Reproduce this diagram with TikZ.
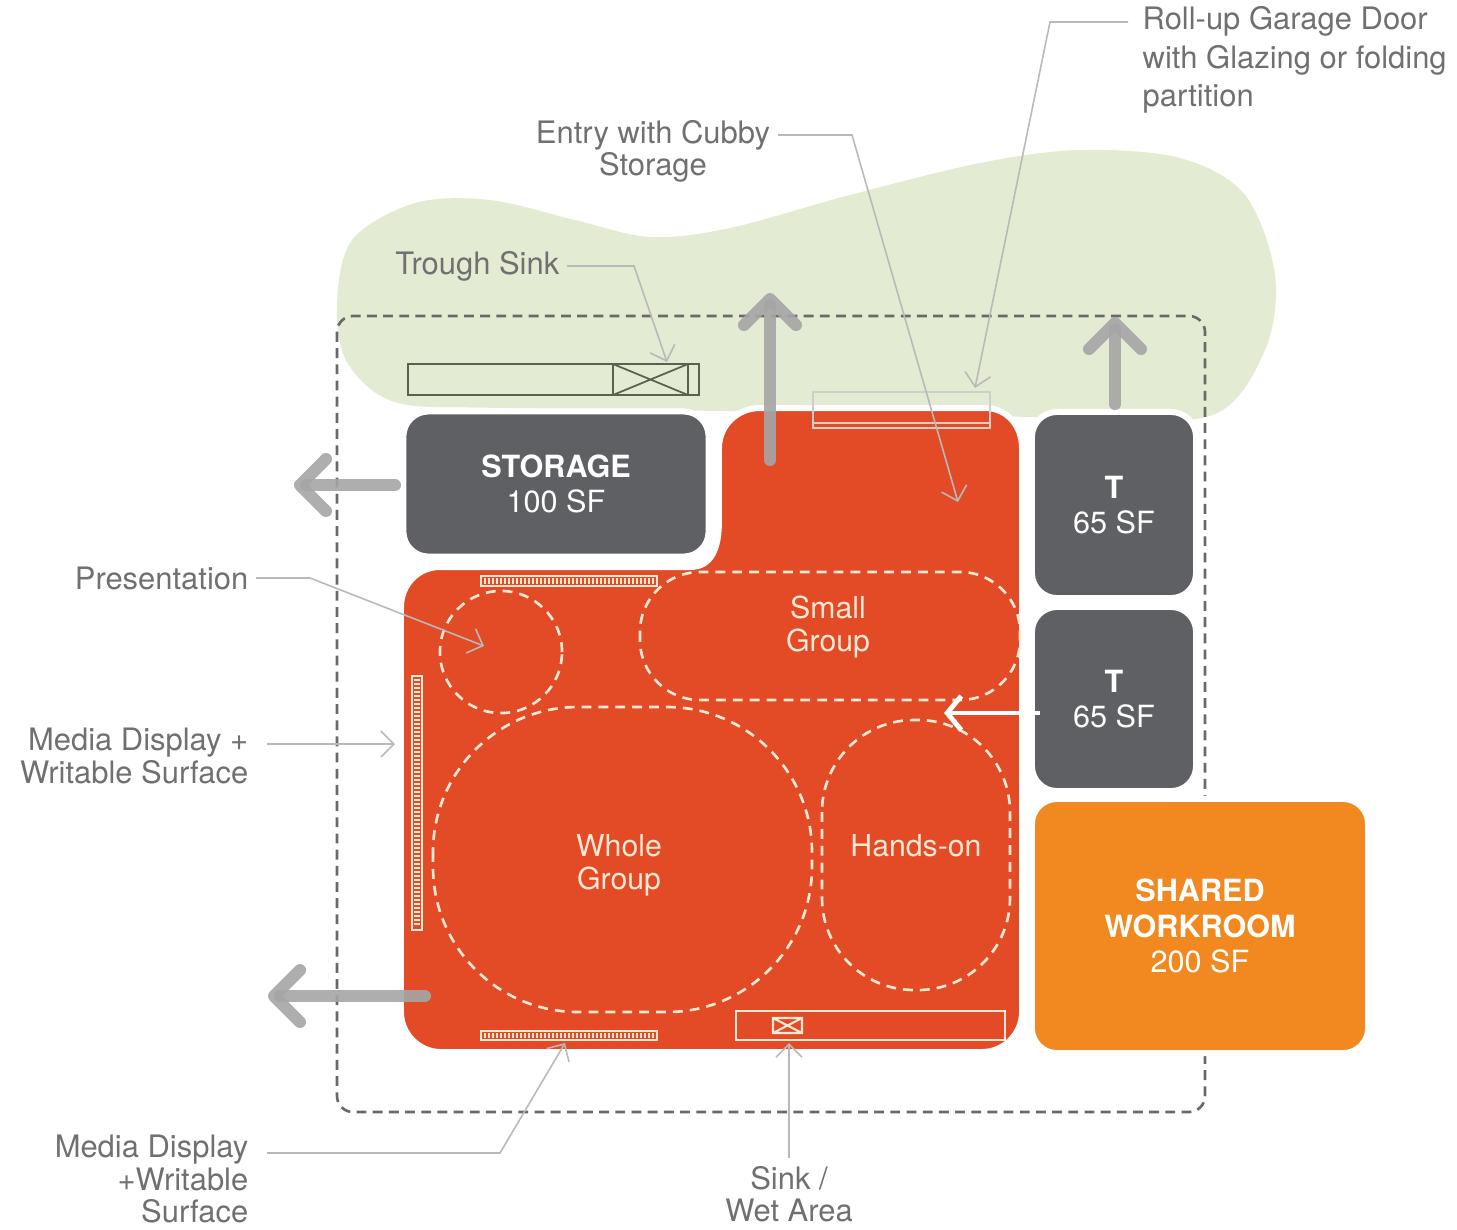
\documentclass[tikz,border=0pt]{standalone}
\usepackage{fontspec}
\setmainfont{TeX Gyre Heros}
\usetikzlibrary{arrows.meta}

\definecolor{sitegreen}{RGB}{227,235,211}
\definecolor{roomorange}{RGB}{226,75,37}
\definecolor{workorange}{RGB}{242,136,32}
\definecolor{boxgray}{RGB}{95,96,100}
\definecolor{arrowgray}{RGB}{165,165,165}
\definecolor{leadergray}{RGB}{185,185,185}
\definecolor{labelgray}{RGB}{112,112,112}
\definecolor{edgegray}{RGB}{105,105,105}
\definecolor{sinkgreen}{RGB}{88,98,78}
\definecolor{chalk}{RGB}{255,232,212}
\definecolor{doorgray}{RGB}{205,208,200}

\begin{document}
\begin{tikzpicture}[x=0.01cm, y=-0.01cm,
    label text/.style={text=labelgray, font=\fontsize{8.8}{9.2}\selectfont, inner sep=0.07cm},
    leader/.style={draw=leadergray, line width=0.45pt, -{Straight Barb[length=0.13cm, width=0.26cm]}},
    room box/.style={fill=boxgray, draw=white, line width=1.7pt, rounded corners=0.25cm,
        text=white, align=center, font=\fontsize{8.7}{10}\selectfont},
    zone/.style={draw=chalk, line width=0.75pt, dash pattern=on 2.8pt off 2pt},
    zone text/.style={text=chalk, align=center, font=\fontsize{8.6}{9.4}\selectfont},
    exit/.style={draw=arrowgray, opacity=0.9, line width=0.12cm, line cap=round,
        -{Straight Barb[round, length=0.26cm, width=0.52cm]}},
    strip/.style={draw=chalk, line width=0.5pt}]

    \useasboundingbox (0,0) rectangle (1457,1229);

    % site
    \fill[sitegreen] plot[smooth cycle, tension=0.55] coordinates {
        (337,305) (352,240) (415,203) (490,200) (575,220) (650,237) (730,228)
        (850,195) (980,163) (1080,150) (1180,158) (1245,195) (1275,275)
        (1265,350) (1215,414) (1100,418) (800,412) (500,408) (395,402) (347,362)};

    \draw[edgegray, line width=0.75pt, dash pattern=on 2.8pt off 1.8pt, rounded corners=0.16cm]
        (337,316) rectangle (1205,1112);

    % trough sink
    \coordinate (TS1) at (408,364);
    \coordinate (TS2) at (699,395);
    \coordinate (TS3) at (613,364);
    \coordinate (TS4) at (688,395);
    \draw[sinkgreen, line width=0.75pt] (TS1) rectangle (TS2);
    \draw[sinkgreen, line width=0.6pt] (TS3) -- (TS3 |- TS4) (TS4) -- (TS4 |- TS3);
    \draw[sinkgreen, line width=0.5pt] (TS3) -- (TS4) (TS3 |- TS4) -- (TS4 |- TS3);

    % classroom
    \filldraw[fill=roomorange, draw=white, line width=1.7pt]
        (401,1012) -- (401,607) .. controls (401,585) and (418,567) .. (440,567)
        -- (690,567) .. controls (712,567) and (719,548) .. (719,520)
        -- (719,448) .. controls (719,426) and (737,408) .. (760,408)
        -- (985,408) .. controls (1007,408) and (1022,426) .. (1022,448)
        -- (1022,1012) .. controls (1022,1034) and (1004,1052) .. (982,1052)
        -- (441,1052) .. controls (419,1052) and (401,1034) .. (401,1012) -- cycle;

    % roll-up door
    \draw[doorgray, line width=0.7pt] (813,392) rectangle (990,428);
    \draw[doorgray, line width=0.6pt] (813,423) -- (990,423);

    \node[room box, minimum width=3.05cm, minimum height=1.45cm] (storage) at (556,484)
        {\textbf{STORAGE}\\100 SF};
    \node[room box, minimum width=1.64cm, minimum height=1.86cm] (t1) at (1114,505)
        {\textbf{T}\\65 SF};
    \node[room box, minimum width=1.64cm, minimum height=1.84cm] (t2) at (1114,699)
        {\textbf{T}\\65 SF};
    \node[room box, fill=workorange, minimum width=3.36cm, minimum height=2.54cm] (work) at (1200,926)
        {\textbf{SHARED}\\\textbf{WORKROOM}\\200 SF};

    % writable surfaces
    \draw[strip] (481,576) rectangle (657,586);
    \foreach \x in {485,489,...,653}
        \draw[chalk, line width=0.3pt] (\x,578) -- (\x,584);
    \draw[strip] (481,1031) rectangle (657,1040);
    \foreach \x in {485,489,...,653}
        \draw[chalk, line width=0.3pt] (\x,1033) -- (\x,1038);
    \draw[strip] (412,676) rectangle (422,930);
    \foreach \y in {680,684,...,926}
        \draw[chalk, line width=0.3pt] (414,\y) -- (420,\y);

    % sink
    \draw[chalk, line width=0.8pt] (736,1011) rectangle (1005,1040);
    \draw[chalk, line width=0.6pt] (773,1018) rectangle (802,1033)
        (773,1018) -- (802,1033) (773,1033) -- (802,1018);

    % activity zones
    \draw[zone] (501,652) circle[radius=0.61cm];
    \draw[zone, rounded corners=0.6cm] (640,572) rectangle (1020,700);
    \draw[zone, rounded corners=1.45cm] (433,707) rectangle (812,1012);
    \draw[zone, rounded corners=0.92cm] (822,720) rectangle (1010,990);
    \node[zone text] (small) at (828,627) {Small\\Group};
    \node[zone text] (whole) at (619,865) {Whole\\Group};
    \node[zone text] (hands) at (916,846) {Hands-on};

    % exits
    \coordinate (exit-n1a) at (770,460);
    \coordinate (exit-n1b) at (770,293);
    \coordinate (exit-n2a) at (1115,404);
    \coordinate (exit-n2b) at (1115,317);
    \coordinate (exit-w1a) at (395,485);
    \coordinate (exit-w1b) at (294,485);
    \coordinate (exit-w2a) at (425,996);
    \coordinate (exit-w2b) at (268,996);
    \draw[exit] (exit-n1a) -- (exit-n1b);
    \draw[exit] (exit-n2a) -- (exit-n2b);
    \draw[exit] (exit-w1a) -- (exit-w1b);
    \draw[exit] (exit-w2a) -- (exit-w2b);

    \coordinate (t2-out) at (1040,713);
    \coordinate (t2-in) at (944,713);
    \draw[white, line width=1.4pt, -{Straight Barb[length=0.14cm, width=0.34cm]}] (t2-out) -- (t2-in);

    % labels
    \node[label text, anchor=west, align=left, font=\fontsize{8.8}{10.9}\selectfont] (rollup) at (1135,60)
        {Roll-up Garage Door\\with Glazing or folding\\partition};
    \node[label text, align=center] (entry) at (653,151) {Entry with Cubby\\Storage};
    \node[label text, anchor=east] (trough) at (567,266) {Trough Sink};
    \node[label text, anchor=east] (present) at (256,578) {Presentation};
    \node[label text, anchor=east, align=right] (media1) at (256,756) {Media Display +\\Writable Surface};
    \node[label text, anchor=east, align=right] (media2) at (256,1179) {Media Display\\+Writable\\Surface};
    \node[label text, align=center] (sink) at (789,1194) {Sink /\\Wet Area};

    \coordinate (rollup-a) at (1128,22);
    \coordinate (rollup-b) at (1050,22);
    \coordinate (rollup-c) at (975,388);
    \coordinate (entry-a) at (778,135);
    \coordinate (entry-b) at (852,135);
    \coordinate (entry-c) at (958,502);
    \coordinate (trough-b) at (634,266);
    \coordinate (trough-c) at (667,362);
    \coordinate (present-b) at (310,578);
    \coordinate (present-c) at (484,646);
    \coordinate (media1-a) at (267,744);
    \coordinate (media1-c) at (395,744);
    \coordinate (media2-a) at (267,1153);
    \coordinate (media2-b) at (500,1153);
    \coordinate (media2-c) at (565,1043);
    \coordinate (sink-c) at (789,1043);

    \draw[leader] (rollup-a) -- (rollup-b) -- (rollup-c);
    \draw[leader] (entry-a) -- (entry-b) -- (entry-c);
    \draw[leader] (trough.east) -- (trough-b) -- (trough-c);
    \draw[leader] (present.east) -- (present-b) -- (present-c);
    \draw[leader] (media1-a) -- (media1-c);
    \draw[leader] (media2-a) -- (media2-b) -- (media2-c);
    \draw[leader] (sink.north) -- (sink-c);

\end{tikzpicture}
\end{document}
